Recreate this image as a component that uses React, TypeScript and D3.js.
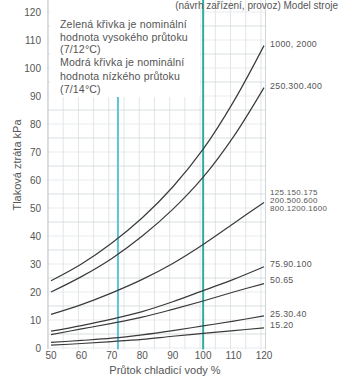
import React from "react";
import * as d3 from "d3";

const flowPct = [50, 60, 70, 80, 90, 100, 110, 120];
const seriesLabels = [
  ["1000, 2000"],
  ["250.300.400"],
  ["125.150.175", "200.500.600", "800.1200.1600"],
  ["75.90.100"],
  ["50.65"],
  ["25.30.40"],
  ["15.20"],
];
const curve1 = [24, 30, 37.5, 46.5, 57.5, 71, 88, 108];
const curve2 = [20, 25.5, 32, 40, 49.5, 61, 75.5, 93];
const curve3 = [12, 15.5, 19.7, 24.5, 30.2, 37, 44.5, 52];
const curve4 = [6, 8, 10.3, 13, 16.5, 20.5, 24.5, 29];
const curve5 = [4.8, 6.8, 8.8, 11, 13.8, 16.8, 20, 23];
const curve6 = [2, 2.7, 3.5, 4.7, 6.2, 7.9, 9.6, 11.5];
const curve7 = [1, 1.6, 2.3, 3.1, 4.2, 5.2, 6.2, 7.2];
const curves = [curve1, curve2, curve3, curve4, curve5, curve6, curve7];
const labelY = [108, 93, 52, 29, 23, 11.5, 7.2];
const xTicks = [50, 60, 70, 80, 90, 100, 110, 120];
const yTicks = [0, 10, 20, 30, 40, 50, 60, 70, 80, 90, 100, 110, 120];
const blueLine = 72;
const greenLine = 100;
const legendLines = [
  "Zelená křivka je nominální",
  "hodnota vysokého průtoku",
  "(7/12°C)",
  "Modrá křivka je nominální",
  "hodnota nízkého průtoku",
  "(7/14°C)",
];

export default function App() {
  const x = d3.scaleLinear().domain([50, 120]).range([51, 264]);
  const y = d3.scaleLinear().domain([0, 120]).range([348, 12]);
  const line = d3
    .line<number>()
    .x((_, i) => x(flowPct[i]))
    .y((d) => y(d))
    .curve(d3.curveCatmullRom.alpha(0.5));
  const gx = d3.range(49, 121.1, 5);
  const gy = d3.range(0, 125.1, 5);
  const font = "'Liberation Sans', Arial, sans-serif";
  const left = x(49);
  const right = x(120.5);
  const bottom = y(-0.5);
  const top = 0;
  const labelDy = [1.5, 1, 0.5, 0.5, -0.5, 1, 0.5];
  const legendY = [28, 41, 53, 66, 80, 93];
  return (
    <svg
      width={340}
      height={376}
      style={{ position: "fixed", left: 0, top: 0, background: "#fff" }}
      fontFamily={font}
    >
      <rect x={0} y={0} width={340} height={376} fill="#fff" />
      {gx.map((v) => (
        <line key={"gx" + v} x1={x(v)} x2={x(v)} y1={top} y2={bottom} stroke="#d9dee2" strokeWidth={0.8} />
      ))}
      {gy.map((v) => (
        <line key={"gy" + v} x1={left} x2={right} y1={y(v)} y2={y(v)} stroke={v % 10 === 5 ? "#cfd5d9" : "#e2e6e9"} strokeWidth={0.8} />
      ))}
      <line x1={left} x2={left} y1={top} y2={bottom} stroke="#c4cacd" strokeWidth={1} />
      <line x1={right} x2={right} y1={top} y2={bottom} stroke="#d0d5d8" strokeWidth={1} />
      <rect x={left + 2} y={0} width={x(100) - left - 5} height={97} fill="#fff" />
      {legendLines.map((t, i) => (
        <text key={t} x={60} y={legendY[i]} fontSize={10.6} fill="#555" letterSpacing={0.15}>
          {t}
        </text>
      ))}
      <line x1={x(blueLine)} x2={x(blueLine)} y1={97} y2={bottom} stroke="#5fc3d8" strokeWidth={2} />
      <line x1={x(greenLine)} x2={x(greenLine)} y1={top} y2={bottom} stroke="#2fae9c" strokeWidth={2} />
      {curves.map((c, i) => (
        <path key={"c" + i} d={line(c) || ""} fill="none" stroke="#3a3a3a" strokeWidth={1.2} />
      ))}
      {seriesLabels.map((lbls, i) =>
        lbls.map((t, j) => (
          <text
            key={t}
            x={270}
            y={y(labelY[i]) + labelDy[i] + (lbls.length > 1 ? (j - 1) * 8 : 0)}
            fontSize={lbls.length > 1 ? 8 : 8.8}
            fill="#555"
            letterSpacing={0.3}
          >
            {t}
          </text>
        ))
      )}
      {yTicks.map((v) => (
        <text key={"yt" + v} x={41} y={y(v) + 3.5} fontSize={10} fill="#555" textAnchor="end">
          {v}
        </text>
      ))}
      {xTicks.map((v) => (
        <text key={"xt" + v} x={x(v)} y={359} fontSize={10} fill="#555" textAnchor="middle">
          {v}
        </text>
      ))}
      <text x={165} y={374} fontSize={11} fill="#555" textAnchor="middle">
        Průtok chladicí vody  %
      </text>
      <text transform="translate(21,165) rotate(-90)" fontSize={11} fill="#555" textAnchor="middle">
        Tlaková ztráta  kPa
      </text>
      <text x={338} y={9} fontSize={10} fill="#555" textAnchor="end">
        (návrh zařízení, provoz) Model stroje
      </text>
    </svg>
  );
}
